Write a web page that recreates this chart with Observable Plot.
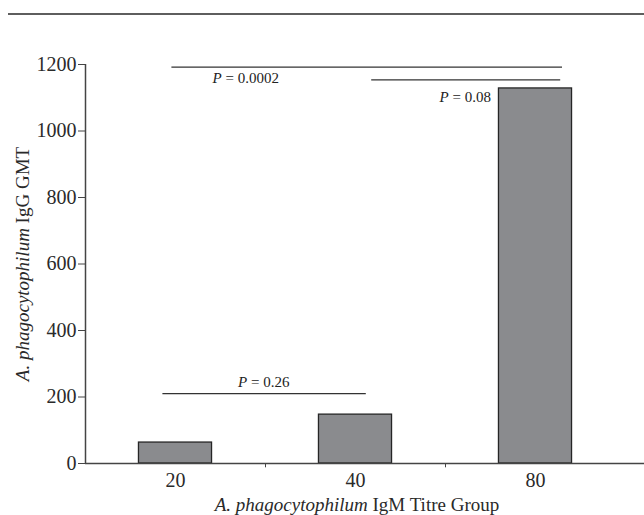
<!DOCTYPE html>
<html><head><meta charset="utf-8">
<script src="https://cdn.jsdelivr.net/npm/d3@7"></script>
<script src="https://cdn.jsdelivr.net/npm/@observablehq/plot@0.6"></script>
<style>
body{margin:0;background:#fff;}
#wrap{position:relative;width:644px;height:515px;overflow:hidden;}
#rule{position:absolute;left:8px;right:0;top:13px;height:2px;background:#5e5e5e;}
#chart{position:absolute;left:0;top:0;}
</style></head><body><div id="wrap"><div id="rule"></div><div id="chart"></div></div>
<script>
const groups = ["20", "40", "80"];
const gmt = [63, 147, 1128];
const yTicks = [0, 200, 400, 600, 800, 1000, 1200];
const brackets = [
  {x1: -0.02, x2: 2.15, y: 1192},
  {x1: 1.09, x2: 2.14, y: 1154},
  {x1: -0.07, x2: 1.06, y: 210}
];
const pLabels = [
  {x: 0.39, y: 1158, p: "0.0002"},
  {x: 1.61, y: 1102, p: "0.08"},
  {x: 0.49, y: 244, p: "0.26"}
];
const xTitle = ["A. phagocytophilum", " IgM Titre Group"];
const yTitle = ["A. phagocytophilum", " IgG GMT"];

const bars = groups.map((g, i) => ({i, g, v: gmt[i]}));
const dividers = groups.slice(1).map((_, i) => i + 0.5);
const half = 0.203;

const plot = Plot.plot({
  width: 644,
  height: 515,
  marginLeft: 85,
  marginRight: 0,
  marginTop: 64,
  marginBottom: 52,
  style: {fontFamily: "'Liberation Serif', serif", fontSize: "20px", color: "#2a2a2a", background: "transparent"},
  x: {domain: [-0.5, groups.length - 0.5], range: [85, 625], axis: null},
  y: {domain: [0, 1200], axis: null},
  marks: [
    Plot.rectY(bars, {x1: d => d.i - half, x2: d => d.i + half, y1: 0, y2: "v", fill: "#8a8b8e", stroke: "#262626", strokeWidth: 1.3}),
    Plot.ruleY([0], {stroke: "#444", strokeWidth: 1.5}),
    Plot.ruleX([-0.5], {y1: 0, y2: 1200, stroke: "#444", strokeWidth: 1.5}),
    Plot.ruleX(dividers, {y1: 0, y2: -13, stroke: "#444", strokeWidth: 1}),
    Plot.axisY({ticks: yTicks, tickFormat: d => String(d), tickSize: 7, tickPadding: 2, label: null, fontSize: 20, stroke: "#444"}),
    Plot.axisX({ticks: groups.map((_, i) => i), tickFormat: i => groups[i], tickSize: 0, tickPadding: 9, label: null, fontSize: 20}),
    Plot.ruleY(brackets, {x1: "x1", x2: "x2", y: "y", stroke: "#333", strokeWidth: 1.2}),
    Plot.text(pLabels, {x: "x", y: "y", text: d => "P| = " + d.p, fontSize: 15, fill: "#222"}),
    Plot.text([xTitle.join("|")], {frameAnchor: "bottom", textAnchor: "middle", lineAnchor: "middle", dx: -8, dy: 41, fontSize: 19, fill: "#2a2a2a"}),
    Plot.text([yTitle.join("|")], {frameAnchor: "left", textAnchor: "middle", lineAnchor: "middle", dx: -63, rotate: -90, fontSize: 19, fill: "#2a2a2a"})
  ]
});

d3.select(plot).selectAll("text").each(function() {
  const t = this.textContent;
  if (!t.includes("|")) return;
  const [a, b] = t.split("|");
  const el = d3.select(this);
  el.text(null);
  el.append("tspan").attr("font-style", "italic").text(a);
  el.append("tspan").text(b);
});

document.getElementById("chart").appendChild(plot);
</script>
</body></html>
